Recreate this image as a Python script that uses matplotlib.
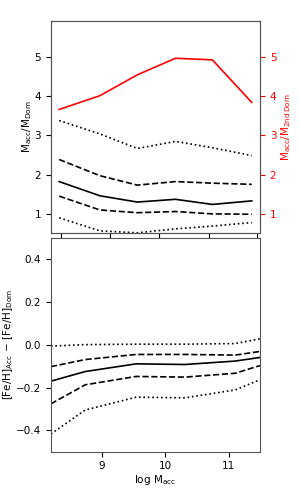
import numpy as np
import matplotlib
matplotlib.use("Agg")
import matplotlib.pyplot as plt

plt.rcParams['font.family'] = 'DejaVu Sans'
plt.rcParams['mathtext.fontset'] = 'dejavusans'
plt.rcParams['font.size'] = 7.5

# top panel: mass ratios per accreted-mass bin
top_x = [8.33, 8.97, 9.56, 10.16, 10.74, 11.36]
ratio_2nd = [3.66, 4.01, 4.54, 4.96, 4.92, 3.84]
ratio_p95 = [3.38, 3.04, 2.67, 2.85, 2.69, 2.49]
ratio_p84 = [2.39, 1.98, 1.74, 1.83, 1.79, 1.76]
ratio_med = [1.83, 1.47, 1.31, 1.38, 1.25, 1.34]
ratio_p16 = [1.46, 1.11, 1.04, 1.07, 1.01, 1.00]
ratio_p05 = [0.91, 0.58, 0.53, 0.63, 0.70, 0.79]
top_ticks = [8.36, 9.13, 9.90, 10.68, 11.45]

# bottom panel: metallicity offset
bot_x = [8.20, 8.74, 9.54, 10.31, 11.10, 11.49]
feh_p95 = [-0.006, 0.001, 0.003, 0.003, 0.006, 0.028]
feh_p84 = [-0.102, -0.069, -0.045, -0.045, -0.048, -0.031]
feh_med = [-0.170, -0.125, -0.089, -0.092, -0.076, -0.059]
feh_p16 = [-0.276, -0.187, -0.148, -0.151, -0.133, -0.097]
feh_p05 = [-0.417, -0.305, -0.245, -0.248, -0.211, -0.163]

fig = plt.figure(figsize=(2.99, 4.93), dpi=100)
ax1 = fig.add_axes([0.1696, 0.5274, 0.700, 0.430])
ax2 = fig.add_axes([0.1696, 0.0838, 0.700, 0.4335])

lw = 1.2
ax1.plot(top_x, ratio_p95, color='k', ls=':', lw=lw)
ax1.plot(top_x, ratio_p84, color='k', ls='--', lw=lw)
ax1.plot(top_x, ratio_med, color='k', ls='-', lw=lw)
ax1.plot(top_x, ratio_p16, color='k', ls='--', lw=lw)
ax1.plot(top_x, ratio_p05, color='k', ls=':', lw=lw)
ax1.set_xlim(8.197, 11.49)
ax1.set_ylim(0.525, 5.906)
ax1.set_xticks(top_ticks)
ax1.set_xticklabels([])
ax1.set_yticks([1, 2, 3, 4, 5])
ax1.set_ylabel(r'$\mathrm{M_{acc}/M_{Dom}}$', labelpad=0)

axr = ax1.twinx()
axr.plot(top_x, ratio_2nd, color='red', lw=lw)
axr.set_ylim(0.525, 5.906)
axr.set_yticks([1, 2, 3, 4, 5])
axr.tick_params(axis='y', colors='red')
axr.set_ylabel(r'$\mathrm{M_{acc}/M_{2nd\,Dom}}$', color='red', labelpad=2)

ax2.plot(bot_x, feh_p95, color='k', ls=':', lw=lw)
ax2.plot(bot_x, feh_p84, color='k', ls='--', lw=lw)
ax2.plot(bot_x, feh_med, color='k', ls='-', lw=lw)
ax2.plot(bot_x, feh_p16, color='k', ls='--', lw=lw)
ax2.plot(bot_x, feh_p05, color='k', ls=':', lw=lw)
ax2.set_xlim(8.197, 11.49)
ax2.set_ylim(-0.5, 0.5)
ax2.set_xticks([9, 10, 11])
ax2.set_yticks([-0.4, -0.2, 0.0, 0.2, 0.4])
ax2.set_xlabel(r'$\mathrm{\log\,M_{acc}}$', labelpad=1)
ax2.set_ylabel(r'$\mathrm{[Fe/H]_{Acc}}\,-\,\mathrm{[Fe/H]_{Dom}}$', labelpad=0.5)

for a in (ax1, axr, ax2):
    for s in a.spines.values():
        s.set_color('#555555')

fig.savefig('out.png', dpi=100)
